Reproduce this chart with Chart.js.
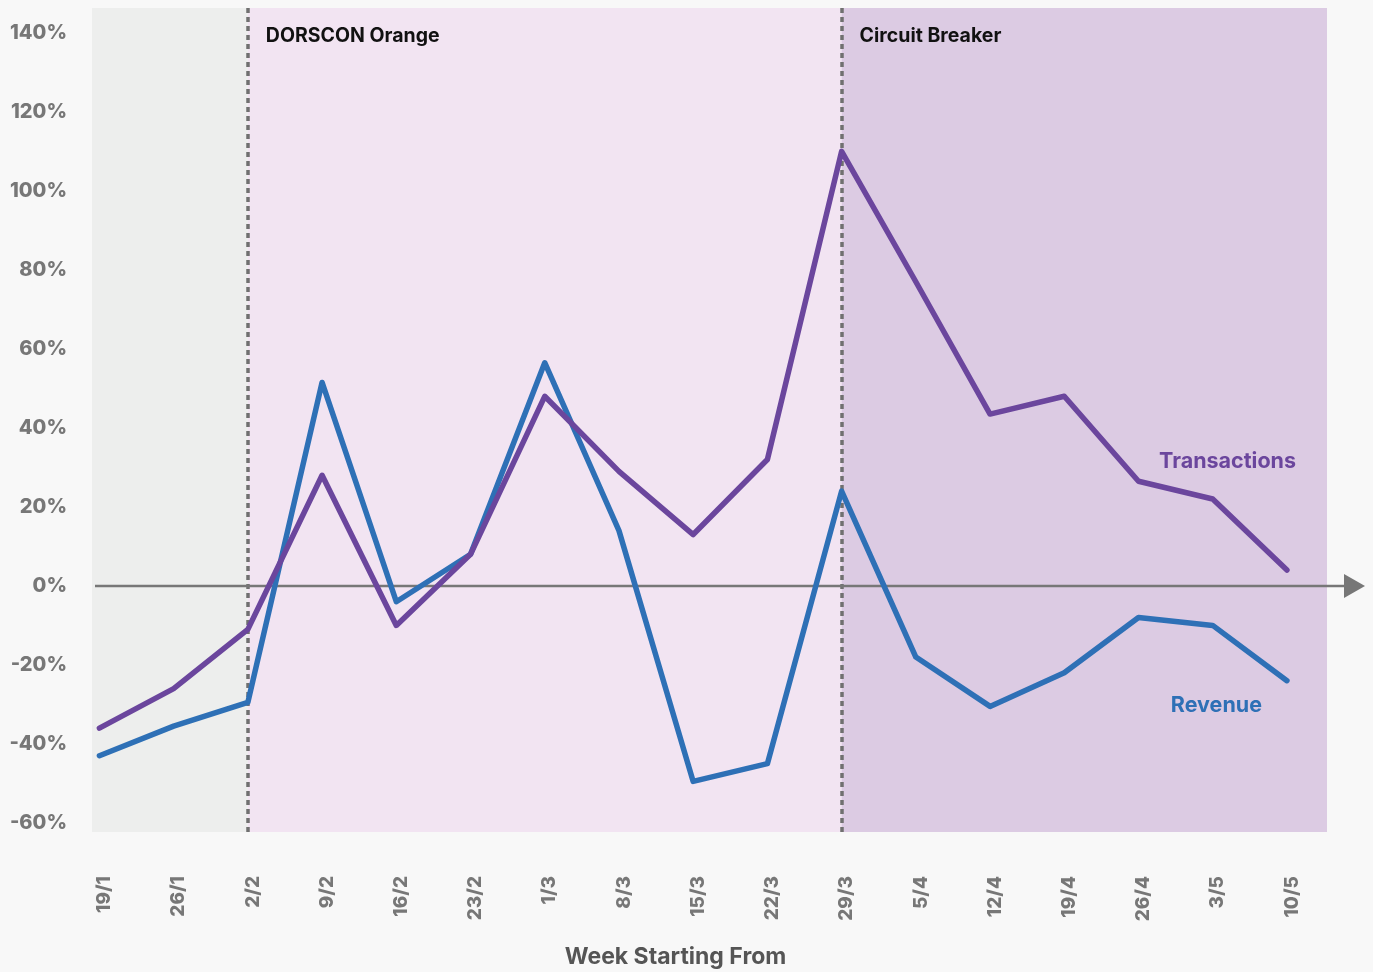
<!DOCTYPE html>
<html>
<head>
<meta charset="utf-8">
<script src="https://cdn.jsdelivr.net/npm/chart.js@4.4.0/dist/chart.umd.min.js"></script>
<style>
    html, body { margin: 0; padding: 0; background: #f8f8f8; }
    #wrap { width: 1373px; height: 972px; position: relative; }
</style>
</head>
<body>
<div id="wrap"><canvas id="weekly-chart-canvas"></canvas></div>
<script>
const weeks = ['19/1', '26/1', '2/2', '9/2', '16/2', '23/2', '1/3', '8/3', '15/3',
    '22/3', '29/3', '5/4', '12/4', '19/4', '26/4', '3/5', '10/5'];
const transactions = [-36, -26, -11, 28, -10, 8, 48, 29, 13, 32, 110, 77, 43.5, 48, 26.5, 22, 4];
const revenue = [-43, -35.5, -29.5, 51.5, -4, 8, 56.5, 14, -49.5, -45, 24, -18, -30.5, -22, -8, -10, -24];
const yTicks = [-60, -40, -20, 0, 20, 40, 60, 80, 100, 120, 140];

// phases: start / end index on the week axis, fill colour, label
const phases = [
    { from: null, to: 2, color: '#edeeed', label: '' },
    { from: 2, to: 10, color: '#f2e4f2', label: 'DORSCON Orange' },
    { from: 10, to: null, color: '#dccbe3', label: 'Circuit Breaker' }
];

const PURPLE = '#6b469d';
const BLUE = '#2e70b6';
const GREY = '#777777';
const FONT = 'Inter, "Open Sans", sans-serif';

const backdropPlugin = {
    id: 'backdrop',
    beforeDatasetsDraw(chart) {
        const { ctx, chartArea } = chart;
        const x = chart.scales.x;
        const y = chart.scales.y;
        ctx.save();
        phases.forEach(p => {
            const left = p.from === null ? chartArea.left : x.getPixelForValue(p.from);
            const right = p.to === null ? chartArea.right : x.getPixelForValue(p.to);
            ctx.fillStyle = p.color;
            ctx.fillRect(left, chartArea.top, right - left, chartArea.bottom - chartArea.top);
        });

        // dotted phase boundaries
        ctx.strokeStyle = '#707070';
        ctx.lineWidth = 3.5;
        ctx.setLineDash([5, 4]);
        phases.forEach(p => {
            if (p.from === null) return;
            const px = Math.round(x.getPixelForValue(p.from));
            ctx.beginPath();
            ctx.moveTo(px, chartArea.top);
            ctx.lineTo(px, chartArea.bottom);
            ctx.stroke();
        });
        ctx.setLineDash([]);

        // zero line with arrow
        const zy = y.getPixelForValue(0);
        const tip = chartArea.right + 38;
        ctx.strokeStyle = GREY;
        ctx.lineWidth = 2.5;
        ctx.beginPath();
        ctx.moveTo(chartArea.left + 3, zy);
        ctx.lineTo(tip - 18, zy);
        ctx.stroke();
        ctx.fillStyle = GREY;
        ctx.beginPath();
        ctx.moveTo(tip - 21, zy - 12);
        ctx.lineTo(tip, zy);
        ctx.lineTo(tip - 21, zy + 12);
        ctx.closePath();
        ctx.fill();
        ctx.restore();
    },
    afterDatasetsDraw(chart) {
        const { ctx, chartArea } = chart;
        const x = chart.scales.x;
        const y = chart.scales.y;
        ctx.save();
        ctx.textBaseline = 'middle';
        ctx.textAlign = 'left';
        ctx.font = `bold 19.5px ${FONT}`;
        ctx.fillStyle = '#111111';
        phases.forEach(p => {
            if (!p.label) return;
            ctx.fillText(p.label, x.getPixelForValue(p.from) + 18, chartArea.top + 28);
        });

        // series labels
        ctx.textAlign = 'center';
        ctx.font = `bold 21.5px ${FONT}`;
        ctx.fillStyle = PURPLE;
        ctx.fillText('Transactions', x.getPixelForValue(15.2), y.getPixelForValue(31.5));
        ctx.fillStyle = BLUE;
        ctx.fillText('Revenue', x.getPixelForValue(15.05), y.getPixelForValue(-30.2));

        // axis title
        ctx.font = `bold 23px ${FONT}`;
        ctx.fillStyle = '#555555';
        ctx.fillText('Week Starting From', (chartArea.left + chartArea.right) / 2 - 34, chart.height - 15);
        ctx.restore();
    }
};

const ctx = document.getElementById('weekly-chart-canvas').getContext('2d');
const chart = new Chart(ctx, {
    type: 'line',
    data: {
        datasets: [
            {
                label: 'Transactions',
                data: transactions.map((v, i) => ({ x: i, y: v })),
                borderColor: PURPLE,
                borderWidth: 5.5,
                pointRadius: 0,
                borderCapStyle: 'round',
                borderJoinStyle: 'round',
                tension: 0
            },
            {
                label: 'Revenue',
                data: revenue.map((v, i) => ({ x: i, y: v })),
                borderColor: BLUE,
                borderWidth: 5.5,
                pointRadius: 0,
                borderCapStyle: 'round',
                borderJoinStyle: 'round',
                tension: 0
            }
        ]
    },
    options: {
        responsive: true,
        maintainAspectRatio: false,
        animation: false,
        layout: { padding: { top: 8, right: 46, left: 0, bottom: 0 } },
        plugins: {
            legend: { display: false },
            tooltip: { enabled: false }
        },
        scales: {
            x: {
                type: 'linear',
                min: -0.1,
                max: 16.54,
                grid: { display: false, drawTicks: false },
                border: { display: false },
                afterBuildTicks: scale => {
                    scale.ticks = weeks.map((w, i) => ({ value: i }));
                },
                ticks: {
                    autoSkip: false,
                    minRotation: 90,
                    maxRotation: 90,
                    padding: 44,
                    labelOffset: 5,
                    color: GREY,
                    font: { family: FONT, size: 19, weight: 800 },
                    callback: value => weeks[value]
                },
                afterFit: scale => {
                    scale.height = 140;
                    scale.paddingLeft = 0;
                    scale.paddingRight = 0;
                }
            },
            y: {
                min: -62.3,
                max: 146.3,
                grid: { display: false, drawTicks: false },
                border: { display: false },
                afterBuildTicks: scale => {
                    scale.ticks = yTicks.map(v => ({ value: v }));
                },
                ticks: {
                    padding: 25,
                    color: GREY,
                    font: { family: FONT, size: 20, weight: 800 },
                    callback: value => value + '%'
                },
                afterFit: scale => {
                    scale.width = 92;
                    scale.paddingTop = 0;
                    scale.paddingBottom = 0;
                }
            }
        }
    },
    plugins: [backdropPlugin]
});
</script>
</body>
</html>
